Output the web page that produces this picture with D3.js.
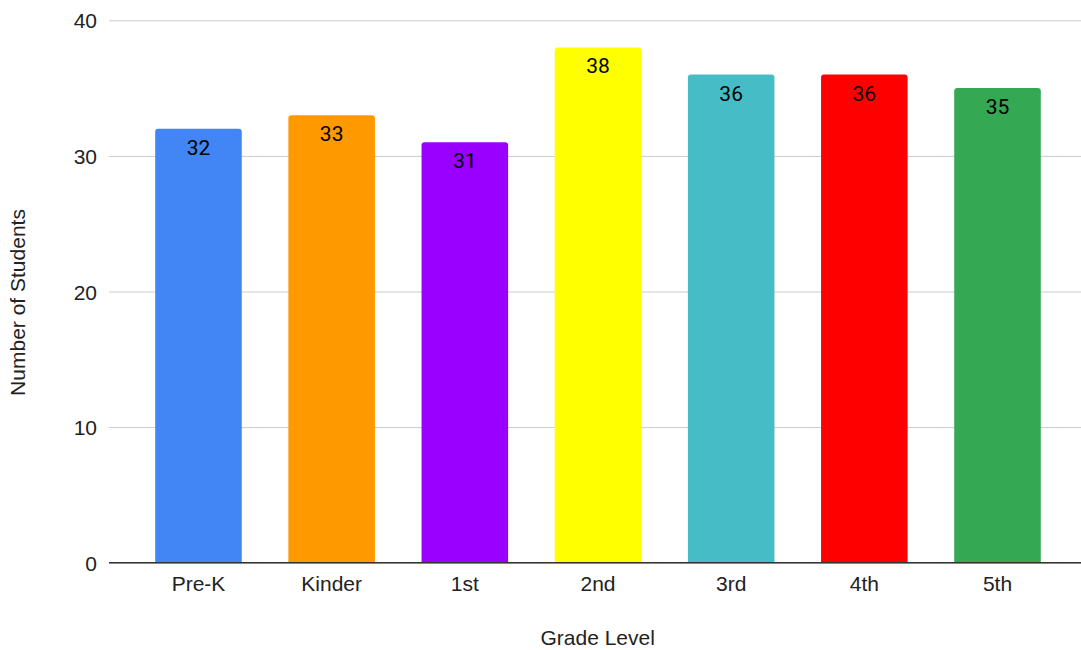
<!DOCTYPE html>
<html>
<head>
<meta charset="utf-8">
<script src="https://cdn.jsdelivr.net/npm/d3@7"></script>
<style>
html,body{margin:0;padding:0;background:#fff;}
svg{display:block;}
</style>
</head>
<body>
<svg id="chart" width="1081" height="650"></svg>
<script>
const categories = ["Pre-K", "Kinder", "1st", "2nd", "3rd", "4th", "5th"];
const values = [32, 33, 31, 38, 36, 36, 35];
const barColors = ["#4285f4", "#ff9900", "#9900ff", "#ffff00", "#46bdc6", "#ff0000", "#34a853"];
const yTicks = [0, 10, 20, 30, 40];
const xTitle = "Grade Level";
const yTitle = "Number of Students";

const svg = d3.select("#chart");
const plotLeft = 109, plotRight = 1081, plotTop = 20.3, plotBottom = 562.7;

const x = d3.scaleBand().domain(categories).range([131.9, 1064.1]).paddingInner(0.35).paddingOuter(0.175);
const y = d3.scaleLinear().domain([0, 40]).range([plotBottom, plotTop]);

const axisFont = "'Liberation Sans', Arial, sans-serif";

// gridlines
const yAxis = d3.axisLeft(y).tickValues(yTicks).tickSize(-(plotRight - plotLeft)).tickPadding(12);
const gy = svg.append("g").attr("transform", `translate(${plotLeft},0)`).call(yAxis);
gy.select(".domain").remove();
gy.selectAll(".tick line").attr("stroke", "#cccccc").attr("stroke-width", 1);
gy.selectAll(".tick text").attr("font-family", axisFont).attr("font-size", 21).attr("fill", "#222").attr("dy", "0.36em");

// bars with rounded top corners
const r = 3;
function barPath(d, i) {
  const x0 = x(categories[i]), w = x.bandwidth();
  const y0 = y(d), y1 = y(0);
  return `M${x0},${y1}V${y0 + r}Q${x0},${y0} ${x0 + r},${y0}H${x0 + w - r}Q${x0 + w},${y0} ${x0 + w},${y0 + r}V${y1}Z`;
}
svg.append("g").selectAll("path").data(values).join("path")
  .attr("d", (d, i) => barPath(d, i))
  .attr("fill", (d, i) => barColors[i]);

// value labels
svg.append("g").selectAll("text").data(values).join("text")
  .attr("x", (d, i) => x(categories[i]) + x.bandwidth() / 2)
  .attr("y", d => y(d) + 26)
  .attr("text-anchor", "middle")
  .attr("font-family", "Roboto, sans-serif")
  .attr("font-size", 21)
  .attr("fill", "#000")
  .text(d => d);

// x axis
const xAxis = d3.axisBottom(x).tickSize(0).tickPadding(13);
const gx = svg.append("g").attr("transform", `translate(0,${plotBottom})`).call(xAxis);
gx.select(".domain").remove();
gx.selectAll(".tick text").attr("font-family", axisFont).attr("font-size", 21).attr("fill", "#222");
svg.append("line").attr("x1", plotLeft).attr("x2", plotRight).attr("y1", plotBottom).attr("y2", plotBottom)
  .attr("stroke", "#333").attr("stroke-width", 1.5);

// titles
svg.append("text").attr("x", 597.7).attr("y", 645).attr("text-anchor", "middle")
  .attr("font-family", axisFont).attr("font-size", 21).attr("fill", "#222").text(xTitle);
svg.append("text").attr("transform", "translate(24.5,302.5) rotate(-90)").attr("text-anchor", "middle")
  .attr("font-family", axisFont).attr("font-size", 21).attr("fill", "#222").text(yTitle);
</script>
</body>
</html>
